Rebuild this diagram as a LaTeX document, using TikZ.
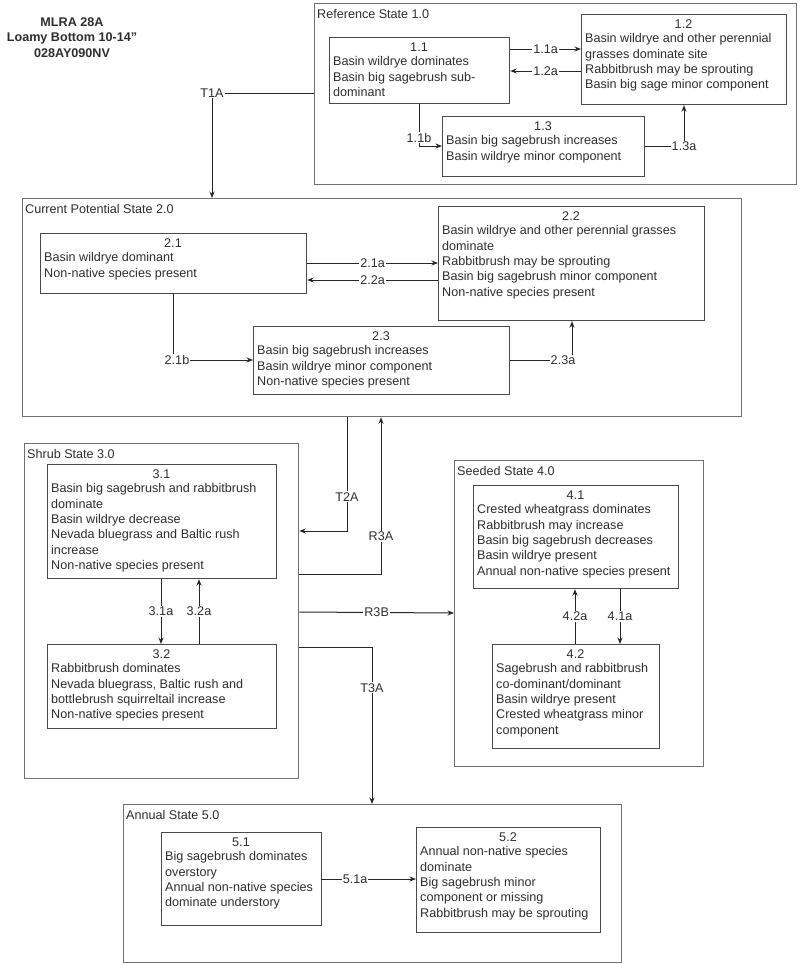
\documentclass[tikz,border=0pt]{standalone}
\usepackage{fontspec}
\setmainfont{Liberation Sans}
\usetikzlibrary{arrows.meta,calc}
\definecolor{txtcol}{HTML}{2E2E2E}
\definecolor{framecol}{HTML}{707070}
\definecolor{boxcol}{HTML}{4A4A4A}
\definecolor{arrcol}{HTML}{262626}
\newcommand\ftext{\fontsize{12.6}{15.3}\selectfont}
\tikzset{
  outframe/.style={draw=framecol, line width=1.3pt, inner sep=0pt, fill=none},
  inbox/.style={draw=boxcol, line width=1.2pt, inner sep=0pt, fill=white},
  txt/.style={inner sep=0pt, font=\ftext, text=txtcol},
  lbl/.style={fill=white, inner sep=1pt, font=\ftext, text=txtcol},
  arr/.style={draw=arrcol, line width=1pt, -{Stealth[length=6.5pt,width=5pt]}},
}
\newcommand\stbox[7]{%
  \node[inbox, minimum width={(#4)-(#2)}, minimum height={(#5)-(#3)}, anchor=north west] (#1) at (#2,#3) {};
  \node[txt, anchor=base] (#1-num) at ({((#2)+(#4))/2},{(#3)+14.5}) {#6};
  \node[txt, anchor=north west, align=left] (#1-txt) at ({(#2)+4},{(#3)+19.5}) {#7};
}
\newcommand\stframe[6]{%
  \node[outframe, minimum width={(#4)-(#2)}, minimum height={(#5)-(#3)}, anchor=north west] (#1) at (#2,#3) {};
  \node[txt, anchor=base west] (#1-lab) at ({(#2)+3},{(#3)+15}) {#6};
}
\begin{document}
\begin{tikzpicture}[x=1pt,y=-1pt]
\useasboundingbox[fill=white] (0,0) rectangle (800,964);

% title
\node[txt, anchor=north, align=center, font=\ftext\bfseries] (title) at (72,17.5)
  {MLRA 28A\\Loamy Bottom 10-14\symbol{34}\\028AY090NV};

% ---------- Reference State 1.0
\stframe{ref}{314}{3}{796}{184}{Reference State 1.0}
\stbox{b11}{329}{37}{509}{103}{1.1}{Basin wildrye dominates\\Basin big sagebrush sub-\\dominant}
\stbox{b12}{581}{14}{786}{104}{1.2}{Basin wildrye and other perennial\\grasses dominate site\\Rabbitbrush may be sprouting\\Basin big sage minor component}
\stbox{b13}{442}{116}{644}{176}{1.3}{Basin big sagebrush increases\\Basin wildrye minor component}

\draw[arr] ($(b11.north east)+(0,12)$) -- node[lbl]{1.1a} ($(b12.north west)+(0,35)$);
\draw[arr] ($(b12.north west)+(0,57)$) -- node[lbl]{1.2a} ($(b11.north east)+(0,34)$);
\draw[arr] ($(b11.south west)+(90,0)$) |- node[lbl,pos=0.4]{1.1b} ($(b13.north west)+(0,30)$);
\draw[arr] ($(b13.north east)+(0,30)$) -| node[lbl,pos=0.5]{1.3a} ($(b12.south west)+(103,0)$);

% ---------- Current Potential State 2.0
\stframe{cur}{22}{198}{741}{416}{Current Potential State 2.0}
\stbox{b21}{40}{233}{306}{293}{2.1}{Basin wildrye dominant\\Non-native species present}
\stbox{b22}{438}{206}{704}{320}{2.2}{Basin wildrye and other perennial grasses\\dominate\\Rabbitbrush may be sprouting\\Basin big sagebrush minor component\\Non-native species present}
\stbox{b23}{253}{326}{509}{394}{2.3}{Basin big sagebrush increases\\Basin wildrye minor component\\Non-native species present}

\draw[arr] ($(b21.north east)+(0,30)$) -- node[lbl]{2.1a} ($(b22.north west)+(0,57)$);
\draw[arr] ($(b22.north west)+(0,74)$) -- node[lbl]{2.2a} ($(b21.north east)+(0,47)$);
\draw[arr] ($(b21.south west)+(133,0)$) |- node[lbl,pos=0.5,xshift=4pt]{2.1b} ($(b23.north west)+(0,34)$);
\draw[arr] ($(b23.north east)+(0,34)$) -| node[lbl,pos=0.5,xshift=-9pt]{2.3a} ($(b22.south west)+(134,0)$);

% T1A
\draw[arr] ($(ref.north west)+(0,90)$) -| node[lbl,pos=0.5]{T1A} ($(cur.north west)+(190,0)$);

% ---------- Shrub State 3.0
\stframe{shrub}{24}{443}{298}{778}{Shrub State 3.0}
\stbox{b31}{47}{464}{276}{578}{3.1}{Basin big sagebrush and rabbitbrush\\dominate\\Basin wildrye decrease\\Nevada bluegrass and Baltic rush\\increase\\Non-native species present}
\stbox{b32}{47}{644}{276}{728}{3.2}{Rabbitbrush dominates\\Nevada bluegrass, Baltic rush and\\bottlebrush squirreltail increase\\Non-native species present}

\draw[arr] ($(b31.south west)+(114,0)$) -- node[lbl]{3.1a} ($(b32.north west)+(114,0)$);
\draw[arr] ($(b32.north west)+(152,0)$) -- node[lbl]{3.2a} ($(b31.south west)+(152,0)$);

% ---------- Seeded State 4.0
\stframe{seed}{454}{460}{703}{766}{Seeded State 4.0}
\stbox{b41}{473}{485}{678}{588}{4.1}{Crested wheatgrass dominates\\Rabbitbrush may increase\\Basin big sagebrush decreases\\Basin wildrye present\\Annual non-native species present}
\stbox{b42}{492}{644}{659}{748}{4.2}{Sagebrush and rabbitbrush\\co-dominant/dominant\\Basin wildrye present\\Crested wheatgrass minor\\component}

\draw[arr] ($(b42.north west)+(83,0)$) -- node[lbl]{4.2a} ($(b41.south west)+(102,0)$);
\draw[arr] ($(b41.south west)+(147,0)$) -- node[lbl]{4.1a} ($(b42.north west)+(128,0)$);

% ---------- Annual State 5.0
\stframe{ann}{123}{804}{621}{962}{Annual State 5.0}
\stbox{b51}{161}{832}{321}{925}{5.1}{Big sagebrush dominates\\overstory\\Annual non-native species\\dominate understory}
\stbox{b52}{416}{827}{600}{932}{5.2}{Annual non-native species\\dominate\\Big sagebrush minor\\component or missing\\Rabbitbrush may be sprouting}

\draw[arr] ($(b51.north west)+(160,47)$) -- node[lbl,pos=0.36]{5.1a} ($(b52.north west)+(0,52)$);

% ---------- transitions between states
\draw[arr] ($(cur.south west)+(325,0)$) |- node[lbl,pos=0.35]{T2A} ($(shrub.north east)+(0,88)$);
\draw[arr] ($(shrub.north east)+(0,131)$) -| node[lbl,pos=0.62]{R3A} ($(cur.south west)+(359,0)$);
\draw[arr] ($(shrub.north east)+(0,169)$) -- node[lbl]{R3B} ($(seed.north west)+(0,153)$);
\draw[arr] ($(shrub.north east)+(0,204)$) -| node[lbl,pos=0.63]{T3A} ($(ann.north west)+(249,0)$);
\end{tikzpicture}
\end{document}
